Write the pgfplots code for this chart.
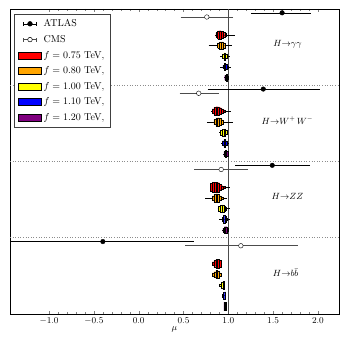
\documentclass[border=0pt]{standalone}
\usepackage{pgfplots}
\pgfplotsset{compat=1.18}

% one violin: colour, y centre, whisker ends a/b, bins x0/x1/halfheight
\newcommand{\violin}[4]{%
  \foreach \wa/\wb in {#3} {%
    \edef\temp{\noexpand\addplot[black, line width=0.6pt, forget plot] coordinates {(\wa,#2) (\wb,#2)};}\temp}%
  \foreach \xa/\xb/\hh in {#4} {%
    \pgfmathsetmacro\ylo{#2-\hh}\pgfmathsetmacro\yhi{#2+\hh}%
    \edef\temp{\noexpand\addplot[fill=#1, draw=black, line width=0.3pt, forget plot] coordinates {(\xa,\ylo) (\xb,\ylo) (\xb,\yhi) (\xa,\yhi) (\xa,\ylo)};}%
    \temp}}

\definecolor{vred}{RGB}{255,0,0}
\definecolor{vorange}{RGB}{255,165,0}
\definecolor{vyellow}{RGB}{255,255,0}
\definecolor{vblue}{RGB}{0,0,255}
\definecolor{vpurple}{RGB}{128,0,128}

\begin{document}
\begin{tikzpicture}
\begin{axis}[
  name=ax,
  scale only axis, width=329pt, height=305pt,
  xmin=-1.436, xmax=2.235, ymin=0, ymax=4,
  ytick=\empty,
  xtick={-1,-0.5,0,0.5,1,1.5,2},
  minor x tick num=4,
  major tick length=3pt, minor tick length=2pt,
  xticklabel style={font=\small, /pgf/number format/.cd, fixed, fixed zerofill, precision=1},
  xlabel={$\mu$}, xlabel style={font=\small, yshift=4pt},
  axis line style={line width=0.8pt},
  legend cell align=left,
  legend style={at={(0.012,0.983)}, anchor=north west, draw=black!75, line width=0.6pt,
    font=\normalsize, row sep=3.2pt, inner xsep=4pt, inner ysep=3pt},
]
% legend entries
\addlegendimage{legend image code/.code={
  \draw[black,line width=0.6pt] (5pt,0pt)--(18pt,0pt) (5pt,-2pt)--(5pt,2pt) (18pt,-2pt)--(18pt,2pt);
  \fill[black] (11.5pt,0pt) circle (2.3pt);}}
\addlegendentry{ATLAS}
\addlegendimage{legend image code/.code={
  \draw[black!70,line width=0.6pt] (5pt,0pt)--(18pt,0pt) (5pt,-2pt)--(5pt,2pt) (18pt,-2pt)--(18pt,2pt);
  \draw[black,fill=white,line width=0.5pt] (11.5pt,0pt) circle (2.3pt);}}
\addlegendentry{CMS}
\addlegendimage{legend image code/.code={\draw[fill=vred,draw=black,line width=0.5pt] (0pt,-3.5pt) rectangle (23pt,3.5pt);}}
\addlegendentry{$f=0.75$ TeV,\hspace{4pt}}
\addlegendimage{legend image code/.code={\draw[fill=vorange,draw=black,line width=0.5pt] (0pt,-3.5pt) rectangle (23pt,3.5pt);}}
\addlegendentry{$f=0.80$ TeV,}
\addlegendimage{legend image code/.code={\draw[fill=vyellow,draw=black,line width=0.5pt] (0pt,-3.5pt) rectangle (23pt,3.5pt);}}
\addlegendentry{$f=1.00$ TeV,}
\addlegendimage{legend image code/.code={\draw[fill=vblue,draw=black,line width=0.5pt] (0pt,-3.5pt) rectangle (23pt,3.5pt);}}
\addlegendentry{$f=1.10$ TeV,}
\addlegendimage{legend image code/.code={\draw[fill=vpurple,draw=black,line width=0.5pt] (0pt,-3.5pt) rectangle (23pt,3.5pt);}}
\addlegendentry{$f=1.20$ TeV,}

% separators and SM line
\addplot[black!45, dotted, line width=0.6pt, forget plot] coordinates {(-1.436,3) (2.235,3)};
\addplot[black!45, dotted, line width=0.6pt, forget plot] coordinates {(-1.436,2) (2.235,2)};
\addplot[black!45, dotted, line width=0.6pt, forget plot] coordinates {(-1.436,1) (2.235,1)};
\addplot[black!70, line width=1pt, forget plot] coordinates {(1,0) (1,4)};

% ATLAS
\addplot[black, only marks, mark=*, mark size=2.3pt, forget plot,
  error bars/.cd, x dir=both, x explicit,
  error bar style={line width=0.6pt, black},
  error mark options={mark size=2pt, line width=0.6pt, black}]
  coordinates {
  (1.60,3.95) += (0.30,0) -= (0.32,0)
  (1.39,2.95) += (0.61,0) -= (0.60,0)
  (1.49,1.95) += (0.40,0) -= (0.39,0)
  (-0.40,0.95) += (0.99,0) -= (1.00,0)
};
% CMS
\addplot[black, only marks, mark=*, mark options={fill=white}, mark size=2.3pt, forget plot,
  error bars/.cd, x dir=both, x explicit,
  error bar style={line width=0.6pt, black!70},
  error mark options={mark size=2pt, line width=0.6pt, black!70}]
  coordinates {
  (0.76,3.895) += (0.27,0) -= (0.27,0)
  (0.67,2.895) += (0.20,0) -= (0.19,0)
  (0.92,1.895) += (0.28,0) -= (0.28,0)
  (1.14,0.895) += (0.61,0) -= (0.60,0)
};

% H -> gamma gamma
\violin{vred}{3.66}{0.85/1.07}{0.86/0.88/0.030, 0.88/0.90/0.052, 0.90/0.92/0.055, 0.92/0.94/0.045, 0.94/0.96/0.035, 0.96/0.98/0.020}
\violin{vorange}{3.52}{0.78/1.04}{0.88/0.90/0.035, 0.90/0.92/0.050, 0.92/0.94/0.050, 0.94/0.96/0.035, 0.96/0.97/0.020}
\violin{vyellow}{3.38}{0.91/1.02}{0.93/0.95/0.030, 0.95/0.97/0.045, 0.97/0.99/0.030}
\violin{vblue}{3.24}{0.91/1.03}{0.94/0.955/0.020, 0.955/0.97/0.045, 0.97/0.985/0.035, 0.985/0.995/0.015}
\violin{vpurple}{3.10}{0.955/1.005}{0.96/0.975/0.030, 0.975/0.99/0.045, 0.99/1.00/0.020}
% H -> WW
\violin{vred}{2.66}{0.81/1.03}{0.82/0.84/0.030, 0.84/0.86/0.050, 0.86/0.88/0.058, 0.88/0.90/0.055, 0.90/0.92/0.045, 0.92/0.94/0.030, 0.94/0.96/0.018}
\violin{vorange}{2.52}{0.76/1.05}{0.84/0.86/0.035, 0.86/0.88/0.052, 0.88/0.90/0.055, 0.90/0.92/0.045, 0.92/0.94/0.025}
\violin{vyellow}{2.38}{0.90/1.00}{0.91/0.93/0.030, 0.93/0.95/0.045, 0.95/0.97/0.045, 0.97/0.99/0.025}
\violin{vblue}{2.24}{0.92/1.01}{0.93/0.95/0.030, 0.95/0.97/0.048, 0.97/0.99/0.030}
\violin{vpurple}{2.10}{0.945/1.005}{0.95/0.965/0.030, 0.965/0.98/0.045, 0.98/0.995/0.035}
% H -> ZZ
\violin{vred}{1.66}{0.80/1.02}{0.80/0.82/0.055, 0.82/0.84/0.065, 0.84/0.86/0.068, 0.86/0.88/0.068, 0.88/0.90/0.062, 0.90/0.92/0.040, 0.92/0.94/0.022, 0.94/0.96/0.012}
\violin{vorange}{1.52}{0.74/0.99}{0.82/0.84/0.030, 0.84/0.86/0.050, 0.86/0.88/0.058, 0.88/0.90/0.050, 0.90/0.92/0.030, 0.92/0.94/0.015}
\violin{vyellow}{1.38}{0.88/1.02}{0.89/0.91/0.030, 0.91/0.93/0.048, 0.93/0.95/0.050, 0.95/0.97/0.035, 0.97/0.98/0.015}
\violin{vblue}{1.24}{0.90/1.02}{0.93/0.945/0.025, 0.945/0.96/0.050, 0.96/0.975/0.040, 0.975/0.985/0.015}
\violin{vpurple}{1.10}{0.935/1.01}{0.94/0.955/0.025, 0.955/0.97/0.045, 0.97/0.985/0.045, 0.985/1.00/0.020}
% H -> bb
\violin{vred}{0.66}{0.82/0.92}{0.82/0.84/0.025, 0.84/0.86/0.040, 0.86/0.88/0.055, 0.88/0.90/0.058, 0.90/0.92/0.045}
\violin{vorange}{0.52}{0.82/0.92}{0.82/0.84/0.020, 0.84/0.86/0.035, 0.86/0.88/0.055, 0.88/0.90/0.045, 0.90/0.92/0.020}
\violin{vyellow}{0.38}{0.90/0.955}{0.90/0.92/0.015, 0.92/0.94/0.035, 0.94/0.955/0.050}
\violin{vblue}{0.24}{0.93/0.97}{0.93/0.945/0.020, 0.945/0.96/0.045, 0.96/0.97/0.050}
\violin{vpurple}{0.10}{0.95/0.975}{0.95/0.965/0.055, 0.965/0.975/0.055}

% channel labels
\node[font=\small] at (axis cs:1.66,3.54) {$H{\rightarrow}\gamma\gamma$};
\node[font=\small] at (axis cs:1.66,2.54) {$H{\rightarrow}W^+\,W^-$};
\node[font=\small] at (axis cs:1.66,1.54) {$H{\rightarrow}ZZ$};
\node[font=\small] at (axis cs:1.64,0.54) {$H{\rightarrow}b\bar{b}$};
\end{axis}
\path ([xshift=-10pt,yshift=-35pt]ax.south west) rectangle ([xshift=10pt,yshift=9pt]ax.north east);
\end{tikzpicture}
\end{document}
